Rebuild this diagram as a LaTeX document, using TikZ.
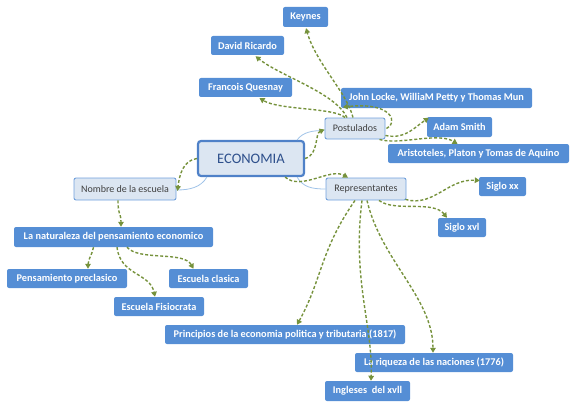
\documentclass[tikz,border=0pt]{standalone}
\usepackage{fontspec}
\setmainfont{Carlito}
\usetikzlibrary{arrows.meta,calc}
\definecolor{darkfill}{RGB}{85,142,213}
\definecolor{lightfill}{RGB}{220,230,242}
\definecolor{lightborder}{RGB}{112,160,220}
\definecolor{ecoborder}{RGB}{79,129,200}
\definecolor{ecotext}{RGB}{46,80,140}
\definecolor{treeblue}{RGB}{160,195,232}
\definecolor{arrowgreen}{RGB}{118,146,60}
\tikzset{
  darkbox/.style={fill=darkfill, rounded corners=2pt, text=white, inner sep=0pt,
    font=\bfseries\fontsize{10.3}{12}\selectfont},
  lightbox/.style={fill=lightfill, draw=lightborder, line width=0.9pt, rounded corners=2pt,
    text=black!75, inner sep=0pt, font=\fontsize{10}{12}\selectfont},
  ecobox/.style={fill=lightfill, draw=ecoborder, line width=2.2pt, rounded corners=3pt,
    text=ecotext, inner sep=0pt, font=\fontsize{14.5}{17}\selectfont},
  tree/.style={draw=treeblue, line width=0.8pt},
  garrow/.style={draw=arrowgreen, line width=1.4pt, dash pattern=on 3pt off 2pt,
    -{Triangle[length=5pt,width=5.5pt]}},
}
\begin{document}
\begin{tikzpicture}[x=1pt,y=-1pt]
\useasboundingbox (0,0) rectangle (577,409);
% main nodes
\node[ecobox, minimum width=106, minimum height=35] (eco) at (251,158.5) {ECONOMIA};
\node[lightbox, minimum width=60, minimum height=21] (post) at (355,128.5) {Postulados};
\node[lightbox, minimum width=80, minimum height=22] (rep) at (366,189) {Representantes};
\node[lightbox, minimum width=102, minimum height=22] (nom) at (125,189) {Nombre de la escuela};
% dark nodes
\node[darkbox, minimum width=45, minimum height=20] (key) at (305.5,17) {Keynes};
\node[darkbox, minimum width=73, minimum height=19] (dav) at (247.5,45.5) {David Ricardo};
\node[darkbox, minimum width=93, minimum height=19] (fra) at (245.5,87.5) {Francois Quesnay};
\node[darkbox, minimum width=191, minimum height=20] (joh) at (436.5,98) {John Locke, WilliaM Petty y Thomas Mun};
\node[darkbox, minimum width=65, minimum height=20] (ada) at (459.5,127) {Adam Smith};
\node[darkbox, minimum width=181, minimum height=19] (ari) at (478.5,153.5) {Aristoteles, Platon y Tomas de Aquino};
\node[darkbox, minimum width=199, minimum height=20] (nat) at (113.5,237) {La naturaleza del pensamiento economico};
\node[darkbox, minimum width=120, minimum height=19] (pre) at (67,278.5) {Pensamiento preclasico};
\node[darkbox, minimum width=79, minimum height=19] (cla) at (208.5,278.5) {Escuela clasica};
\node[darkbox, minimum width=90, minimum height=19] (fis) at (159,306.5) {Escuela Fisiocrata};
\node[darkbox, minimum width=47, minimum height=19] (sxx) at (502.5,186.5) {Siglo xx};
\node[darkbox, minimum width=48, minimum height=19] (sxv) at (462,227.5) {Siglo xvl};
\node[darkbox, minimum width=240, minimum height=19] (pri) at (285,334.5) {Principios de la economia politica y tributaria (1817)};
\node[darkbox, minimum width=158, minimum height=19] (riq) at (434,362.5) {La riqueza de las naciones (1776)};
\node[darkbox, minimum width=85, minimum height=20] (ing) at (367.5,391) {Ingleses\ \ del xvll};
% tree lines
\draw[tree] ($(eco.north east)+(-8,0)$) .. controls +(6,-8) and +(-12,0) .. ($(post.west)+(0,2)$);
\draw[tree] ($(eco.south west)+(10,0)$) .. controls +(-6,10) and +(14,0) .. ($(nom.east)+(0,1)$);
\draw[tree] ($(eco.south east)+(-8,0)$) .. controls +(6,10) and +(-14,0) .. (rep.west);
% green arrows
\draw[garrow] (eco.east) .. controls +(14,-4) and +(-10,4) .. ($(post.west)+(0,1)$);
\draw[garrow] (eco.west) .. controls +(-14,2) and +(2,-16) .. ($(nom.east)+(1,2)$);
\draw[garrow] ($(eco.south east)+(-20,0)$) .. controls +(16,14) and +(-18,-10) .. ($(rep.north)+(-18,0)$);
\draw[garrow] ($(post.north)+(-2,0)$) .. controls +(-6,-25) and +(10,35) .. ($(key.south)+(0.5,1)$);
\draw[garrow] ($(post.north)+(-8,0)$) .. controls +(-12,-25) and +(25,20) .. ($(dav.south)+(8,1)$);
\draw[garrow] ($(post.north)+(-10,0)$) .. controls +(-10,-10) and +(20,12) .. ($(fra.south)+(14,1)$);
\draw[garrow] ($(post.east)+(1,0)$) .. controls +(12,-5) and +(50,-6) .. ($(joh.south west)+(2,-1)$);
\draw[garrow] ($(post.east)+(0,7)$) .. controls +(20,4) and +(-15,10) .. ($(ada.north west)+(2,1)$);
\draw[garrow] ($(post.south east)+(-6,0)$) .. controls +(20,6) and +(-20,-12) .. ($(ari.north)+(-21,0)$);
\draw[garrow] ($(nom.south)+(-7,0)$) .. controls +(0,15) and +(0,-14) .. ($(nat.north)+(7.5,0)$);
\draw[garrow] ($(nat.south)+(-20,0)$) .. controls +(-3,12) and +(0,-10) .. ($(pre.north)+(21,0)$);
\draw[garrow] ($(nat.south)+(3.5,0)$) .. controls +(3,28) and +(-5,-24) .. ($(fis.north)+(-4,0)$);
\draw[garrow] ($(nat.south)+(13.5,0)$) .. controls +(12,14) and +(-10,-18) .. ($(cla.north)+(-15,0)$);
\draw[garrow] ($(rep.south east)+(-1,-1)$) .. controls +(28,8) and +(-32,-2) .. ($(sxx.west)+(1,-6)$);
\draw[garrow] ($(rep.south)+(13,0)$) .. controls +(16,12) and +(-14,-18) .. ($(sxv.north)+(-15,0)$);
\draw[garrow] ($(rep.south)+(-11,0)$) .. controls +(-35,50) and +(25,-45) .. ($(pri.north)+(12,0)$);
\draw[garrow] ($(rep.south)+(-4,0)$) .. controls +(-10,80) and +(2,-55) .. ($(ing.north)+(3.5,0)$);
\draw[garrow] ($(rep.south)+(1,0)$) .. controls +(14,60) and +(0,-55) .. ($(riq.north)+(-1,0)$);
\end{tikzpicture}
\end{document}
